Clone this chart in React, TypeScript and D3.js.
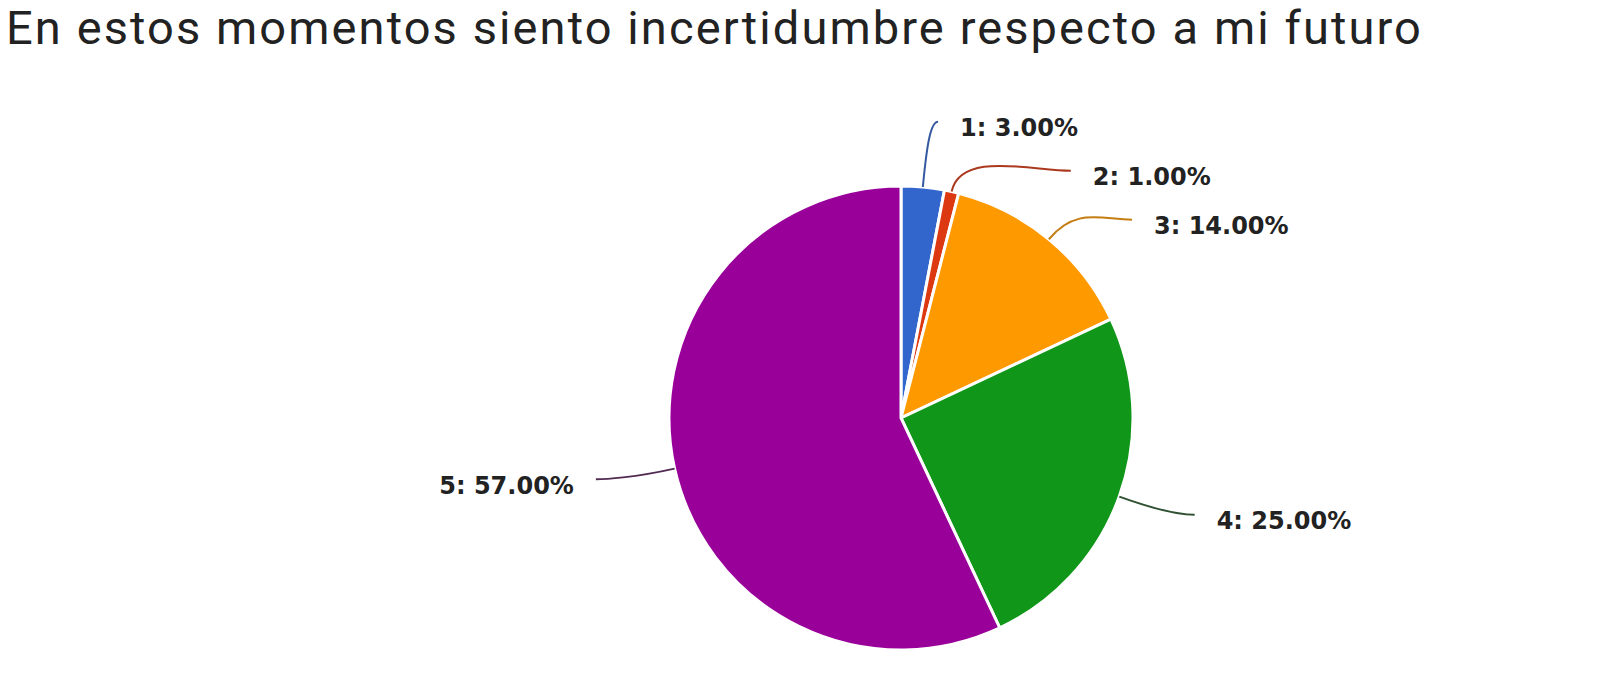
import React from "react";
import * as d3 from "d3";

const title = "En estos momentos siento incertidumbre respecto a mi futuro";
const categories = ["1", "2", "3", "4", "5"];
const values = [3, 1, 14, 25, 57];
const colors = ["#3366cc", "#dc3912", "#ff9900", "#109618", "#990099"];

const W = 1600;
const H = 683;
const cx = 901;
const cy = 418;
const R = 232;

export default function App() {
  const pie = d3.pie<number>().sort(null).value((d) => d);
  const arcs = pie(values);
  const arcGen = d3.arc<d3.PieArcDatum<number>>().innerRadius(0).outerRadius(R);
  const total = d3.sum(values);
  const fmt = d3.format(".2f");

  // label layout: project onto ray, resolve collisions, place on ellipse
  type L = { i: number; a: number; y: number; side: number };
  const labels: L[] = arcs.map((d, i) => {
    const a = (d.startAngle + d.endAngle) / 2;
    return { i, a, y: -1.27 * R * Math.cos(a), side: Math.sin(a) >= 0 ? 1 : -1 };
  });
  const gap = 49;
  [1, -1].forEach((side) => {
    const group = labels.filter((l) => l.side === side).sort((p, q) => p.y - q.y);
    for (let k = 1; k < group.length; k++) {
      if (group[k].y < group[k - 1].y + gap) group[k].y = group[k - 1].y + gap;
    }
  });
  const Rx = 335;
  const Ry = 298;

  return (
    <svg
      width={W}
      height={H}
      style={{ position: "absolute", left: 0, top: 0, background: "#fff" }}
    >
      <text
        x={6}
        y={44}
        fontFamily="Roboto"
        fontSize={47}
        letterSpacing={2.1}
        fill="#222"
      >
        {title}
      </text>
      <g transform={`translate(${cx},${cy})`}>
        {arcs.map((d, i) => (
          <path key={i} d={arcGen(d) || ""} fill={colors[i]} stroke="#fff" strokeWidth={3} />
        ))}
        {labels.map((l) => {
          const sx = R * Math.sin(l.a);
          const sy = -R * Math.cos(l.a);
          const t = Math.max(0, 1 - (l.y / Ry) ** 2);
          const tx = l.side * Rx * Math.sqrt(t);
          const ex = tx - l.side * 22;
          const ey = l.y - 3;
          const d1 = 42;
          const c1x = sx + Math.sin(l.a) * d1;
          const c1y = sy - Math.cos(l.a) * d1;
          const d2 = Math.min(40, Math.abs(ex - sx) / 2) * Math.abs(Math.cos(l.a));
          const c2x = ex - l.side * d2;
          const c2y = ey;
          const pct = (values[l.i] / total) * 100;
          const lineColor = d3.interpolateRgb(colors[l.i], "#3a3a3a")(l.i >= 3 ? 0.75 : 0.3);
          return (
            <g key={l.i}>
              <path
                d={`M${sx},${sy}C${c1x},${c1y} ${c2x},${c2y} ${ex},${ey}`}
                fill="none"
                stroke={lineColor}
                strokeWidth={2}
              />
              <text
                x={tx}
                y={l.y + 3}
                dy="0.36em"
                textAnchor={l.side > 0 ? "start" : "end"}
                fontFamily="DejaVu Sans"
                fontWeight="bold"
                fontSize={24}
                fill="#222"
              >
                {`${categories[l.i]}: ${fmt(pct)}%`}
              </text>
            </g>
          );
        })}
      </g>
    </svg>
  );
}
